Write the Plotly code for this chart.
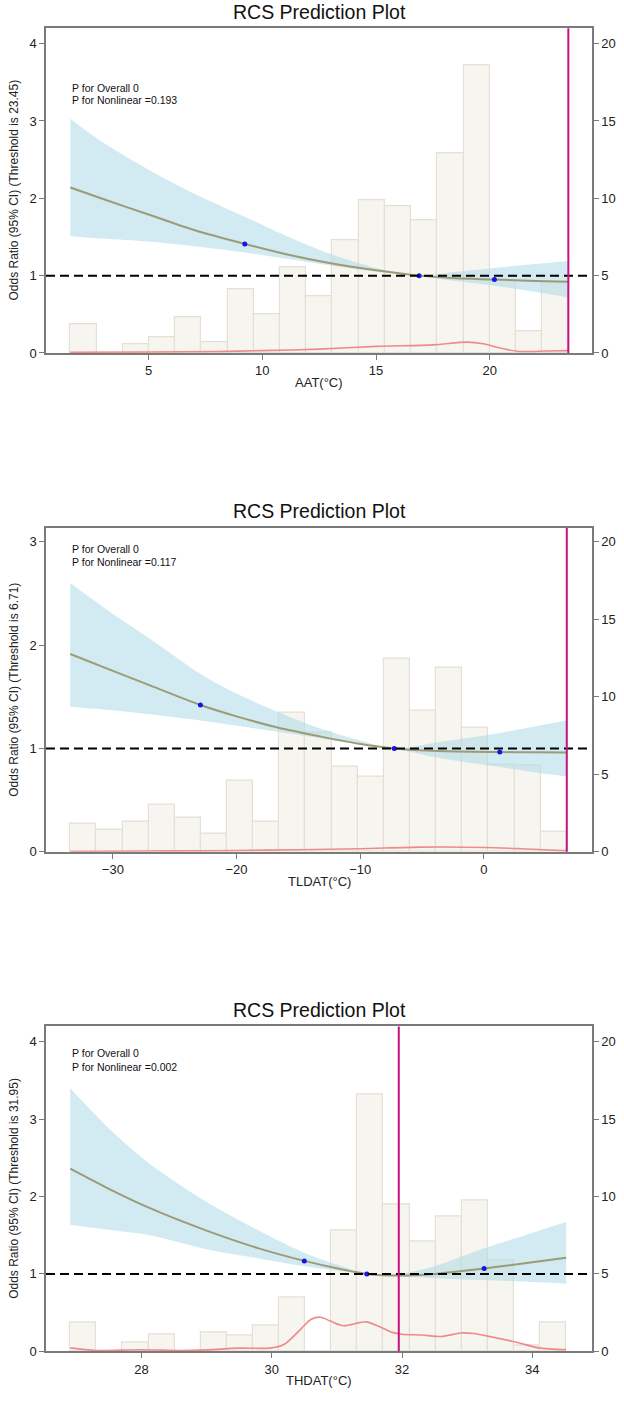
import numpy as np
import plotly.graph_objects as go

FONT = "Liberation Sans, Arial, sans-serif"

# ---------------- Panel 1 : AAT ----------------
aat_title_x = "AAT(°C)"
aat_ytitle = "Odds Ratio (95% CI) (Threshold is 23.45)"
aat_p_text = ["P for Overall 0", "P for Nonlinear =0.193"]
aat_min, aat_max, aat_threshold = 1.56, 23.45, 23.45
aat_counts = [1.86, 0, 0.55, 1.05, 2.3, 0.71, 4.12, 2.49, 5.54, 3.69,
              7.31, 9.87, 9.52, 8.6, 12.95, 18.6, 4.7, 1.44, 4.6]
aat_x = [1.56, 3, 5, 7, 9.23, 11, 13, 15, 16.89, 18.5, 20.2, 22, 23.45]
aat_or = [2.14, 1.99, 1.79, 1.59, 1.41, 1.28, 1.16, 1.07, 1.0, 0.965, 0.95, 0.93, 0.92]
aat_upper = [3.03, 2.72, 2.37, 2.06, 1.76, 1.52, 1.28, 1.10, 1.0, 1.05, 1.10, 1.15, 1.19]
aat_lower = [1.51, 1.48, 1.44, 1.38, 1.30, 1.22, 1.13, 1.05, 1.0, 0.93, 0.87, 0.79, 0.715]
aat_pts_x = [9.23, 16.89, 20.2]
aat_pts_y = [1.41, 1.0, 0.95]
aat_dens_x = [1.56, 5, 8, 10, 12.5, 15, 17.5, 19, 19.7, 20.5, 21.3, 22.5, 23.45]
aat_dens = [0.01, 0.012, 0.02, 0.03, 0.05, 0.085, 0.105, 0.14, 0.12, 0.06, 0.02, 0.025, 0.03]
aat_xticks = [5, 10, 15, 20]
aat_yticks = [0, 1, 2, 3, 4]

# ---------------- Panel 2 : TLDAT ----------------
tl_title_x = "TLDAT(°C)"
tl_ytitle = "Odds Ratio (95% CI) (Threshold is 6.71)"
tl_p_text = ["P for Overall 0", "P for Nonlinear =0.117"]
tl_min, tl_max, tl_threshold = -33.45, 6.71, 6.71
tl_counts = [1.83, 1.4, 1.95, 3.02, 2.2, 1.19, 4.61, 1.94, 8.94, 7.69,
             5.50, 4.87, 12.48, 9.08, 11.9, 8.02, 5.6, 5.54, 1.29]
tl_x = [-33.45, -30, -27, -22.92, -20, -16.6, -13.4, -10.1, -7.24, -3.7, 1.29, 4, 6.71]
tl_or = [1.913, 1.75, 1.61, 1.42, 1.31, 1.20, 1.12, 1.045, 1.0, 0.975, 0.965, 0.962, 0.96]
tl_upper = [2.60, 2.30, 2.06, 1.72, 1.53, 1.35, 1.20, 1.08, 1.0, 1.06, 1.15, 1.21, 1.27]
tl_lower = [1.404, 1.37, 1.33, 1.27, 1.22, 1.16, 1.10, 1.04, 1.0, 0.91, 0.82, 0.77, 0.73]
tl_pts_x = [-22.92, -7.24, 1.29]
tl_pts_y = [1.42, 1.0, 0.965]
tl_dens_x = [-33.45, -30, -25, -20, -15, -10, -5, 0, 3, 6.71]
tl_dens = [0.003, 0.006, 0.009, 0.013, 0.02, 0.03, 0.045, 0.042, 0.03, 0.01]
tl_xticks = [-30, -20, -10, 0]
tl_yticks = [0, 1, 2, 3]

# ---------------- Panel 3 : THDAT ----------------
th_title_x = "THDAT(°C)"
th_ytitle = "Odds Ratio (95% CI) (Threshold is 31.95)"
th_p_text = ["P for Overall 0", "P for Nonlinear =0.002"]
th_min, th_max, th_threshold = 26.907, 34.52, 31.95
th_counts = [1.84, 0, 0.6, 1.12, 0, 1.22, 1.02, 1.67, 3.47, 0,
             7.79, 16.6, 9.49, 7.07, 8.72, 9.72, 5.88, 0.4, 1.84]
th_x = [26.907, 27.5, 28.13, 29, 29.8, 30.5, 31, 31.46, 31.95, 32.5, 33.26, 34, 34.52]
th_or = [2.36, 2.10, 1.85, 1.56, 1.33, 1.168, 1.072, 1.0, 0.98, 1.0, 1.07, 1.15, 1.21]
th_upper = [3.40, 2.88, 2.42, 1.93, 1.56, 1.27, 1.12, 1.0, 1.0, 1.10, 1.33, 1.53, 1.67]
th_lower = [1.635, 1.57, 1.50, 1.32, 1.20, 1.10, 1.045, 1.0, 0.965, 0.945, 0.92, 0.895, 0.874]
th_pts_x = [30.50, 31.46, 33.26]
th_pts_y = [1.168, 1.0, 1.07]
th_dens_x = [26.907, 27.3, 28, 28.6, 29, 29.5, 30, 30.2, 30.45, 30.6, 30.75, 30.9, 31.1,
             31.35, 31.45, 31.65, 31.85, 32.0, 32.3, 32.6, 32.9, 33.1, 33.4, 33.8, 34.1, 34.52]
th_dens = [0.043, 0.01, 0.02, 0.01, 0.017, 0.04, 0.043, 0.094, 0.29, 0.41, 0.44, 0.39, 0.33,
           0.37, 0.38, 0.32, 0.244, 0.22, 0.21, 0.19, 0.236, 0.23, 0.18, 0.107, 0.043, 0.02]
th_xticks = [28, 30, 32, 34]
th_yticks = [0, 1, 2, 3, 4]

count_ticks = [0, 5, 10, 15, 20]

panels = [
    dict(xt=aat_title_x, yt=aat_ytitle, p=aat_p_text, lo=aat_min, hi=aat_max, thr=aat_threshold,
         counts=aat_counts, x=aat_x, orv=aat_or, up=aat_upper, lw=aat_lower,
         px=aat_pts_x, py=aat_pts_y, dx=aat_dens_x, dy=aat_dens,
         xticks=aat_xticks, yticks=aat_yticks, xr=[0.49, 24.49], yr=[0, 4.2], cmax=21.0,
         p_y=[3.43, 3.27], dom=[0.74661, 0.97980]),
    dict(xt=tl_title_x, yt=tl_ytitle, p=tl_p_text, lo=tl_min, hi=tl_max, thr=tl_threshold,
         counts=tl_counts, x=tl_x, orv=tl_or, up=tl_upper, lw=tl_lower,
         px=tl_pts_x, py=tl_pts_y, dx=tl_dens_x, dy=tl_dens,
         xticks=tl_xticks, yticks=tl_yticks, xr=[-35.41, 8.75], yr=[0, 3.135], cmax=20.9,
         p_y=[2.93, 2.80], dom=[0.38851, 0.62120]),
    dict(xt=th_title_x, yt=th_ytitle, p=th_p_text, lo=th_min, hi=th_max, thr=th_threshold,
         counts=th_counts, x=th_x, orv=th_or, up=th_upper, lw=th_lower,
         px=th_pts_x, py=th_pts_y, dx=th_dens_x, dy=th_dens,
         xticks=th_xticks, yticks=th_yticks, xr=[26.535, 34.916], yr=[0, 4.2], cmax=21.0,
         p_y=[3.85, 3.675], dom=[0.02998, 0.26317]),
]

W, H = 624, 1401
ML, MR = 46, 32
AXC = "#7a7a7a"
TXT = "#222222"
BAR_FILL = "#F7F5F0"
BAR_LINE = "#E4E0D4"
RIB = "rgba(173,216,230,0.55)"
LINE_C = "#9C9B78"
DENS_C = "#F08A8A"
MAG = "#C8107E"
PT_C = "#1414E6"

fig = go.Figure()
layout = dict(
    width=W, height=H, margin=dict(l=ML, r=MR, t=0, b=0),
    paper_bgcolor="white", plot_bgcolor="white", showlegend=False,
    font=dict(family=FONT, color=TXT, size=13),
)
annotations = []
shapes = []

for i, P in enumerate(panels, start=1):
    xid = "x" if i == 1 else f"x{i}"
    yc = "y" if i == 1 else f"y{2*i-1}"
    yo = f"y{2*i}"
    xkey = "xaxis" if i == 1 else f"xaxis{i}"
    yckey = "yaxis" if i == 1 else f"yaxis{2*i-1}"
    yokey = f"yaxis{2*i}"

    nb = len(P["counts"])
    edges = np.linspace(P["lo"], P["hi"], nb + 1)
    centers = (edges[:-1] + edges[1:]) / 2
    bw = edges[1] - edges[0]

    fig.add_trace(go.Bar(x=centers, y=P["counts"], width=bw, xaxis=xid, yaxis=yc,
                         marker=dict(color=BAR_FILL, line=dict(color=BAR_LINE, width=1.2)),
                         hoverinfo="skip"))
    # ribbon
    fig.add_trace(go.Scatter(x=P["x"], y=P["up"], xaxis=xid, yaxis=yo, mode="lines",
                             line=dict(width=0, shape="spline", smoothing=0.8),
                             hoverinfo="skip"))
    fig.add_trace(go.Scatter(x=P["x"], y=P["lw"], xaxis=xid, yaxis=yo, mode="lines",
                             line=dict(width=0, shape="spline", smoothing=0.8),
                             fill="tonexty", fillcolor=RIB, hoverinfo="skip"))
    # density curve
    fig.add_trace(go.Scatter(x=P["dx"], y=P["dy"], xaxis=xid, yaxis=yo, mode="lines",
                             line=dict(color=DENS_C, width=1.6, shape="spline", smoothing=0.8)))
    # OR line
    fig.add_trace(go.Scatter(x=P["x"], y=P["orv"], xaxis=xid, yaxis=yo, mode="lines",
                             line=dict(color=LINE_C, width=2, shape="spline", smoothing=0.8)))
    # points
    fig.add_trace(go.Scatter(x=P["px"], y=P["py"], xaxis=xid, yaxis=yo, mode="markers",
                             marker=dict(color=PT_C, size=5)))

    axis_common = dict(showgrid=False, zeroline=False, showline=True, linecolor=AXC,
                       linewidth=1.5, ticks="outside", ticklen=5, tickwidth=1.2,
                       tickcolor=AXC, tickfont=dict(size=13, color=TXT, family=FONT))
    layout[xkey] = dict(axis_common, domain=[0, 1], anchor=yc, range=P["xr"],
                        tickvals=P["xticks"], mirror=True)
    layout[yckey] = dict(axis_common, domain=P["dom"], anchor=xid, side="right",
                         range=[0, P["cmax"]], tickvals=count_ticks)
    layout[yokey] = dict(axis_common, anchor=xid, overlaying=yc, side="left",
                         range=P["yr"], tickvals=P["yticks"])

    d0, d1 = P["dom"]
    annotations.append(dict(text="RCS Prediction Plot", xref="paper", yref="paper",
                            x=0.5, y=d1 + 16.3 / H, xanchor="center", yanchor="middle",
                            showarrow=False, font=dict(size=19.5, color="#111", family=FONT)))
    annotations.append(dict(text=P["xt"], xref="paper", yref="paper", x=0.5,
                            y=d0 - 29.5 / H, xanchor="center", yanchor="middle",
                            showarrow=False, font=dict(size=13, color=TXT, family=FONT)))
    annotations.append(dict(text=P["yt"], xref="paper", yref="paper",
                            x=-(ML - 14) / (W - ML - MR), y=(d0 + d1) / 2,
                            xanchor="center", yanchor="middle", textangle=-90,
                            showarrow=False, font=dict(size=12, color=TXT, family=FONT)))
    for txt, yy in zip(P["p"], P["p_y"]):
        annotations.append(dict(text=txt, xref=xid, yref=yo, x=P["lo"], y=yy,
                                xanchor="left", yanchor="middle", showarrow=False,
                                font=dict(size=10.5, color="#111", family=FONT)))
    shapes.append(dict(type="line", xref=f"{xid} domain", yref=yo, x0=0, x1=1, y0=1, y1=1,
                       line=dict(color="black", width=2, dash="9px,5px")))
    shapes.append(dict(type="line", xref=xid, yref=f"{yc} domain", x0=P["thr"], x1=P["thr"],
                       y0=0, y1=1, line=dict(color=MAG, width=2)))

layout["annotations"] = annotations
layout["shapes"] = shapes
layout["bargap"] = 0
fig.update_layout(**layout)
fig.write_html("out.html", config={"displayModeBar": False},
               post_script="document.body.style.margin='0';")
